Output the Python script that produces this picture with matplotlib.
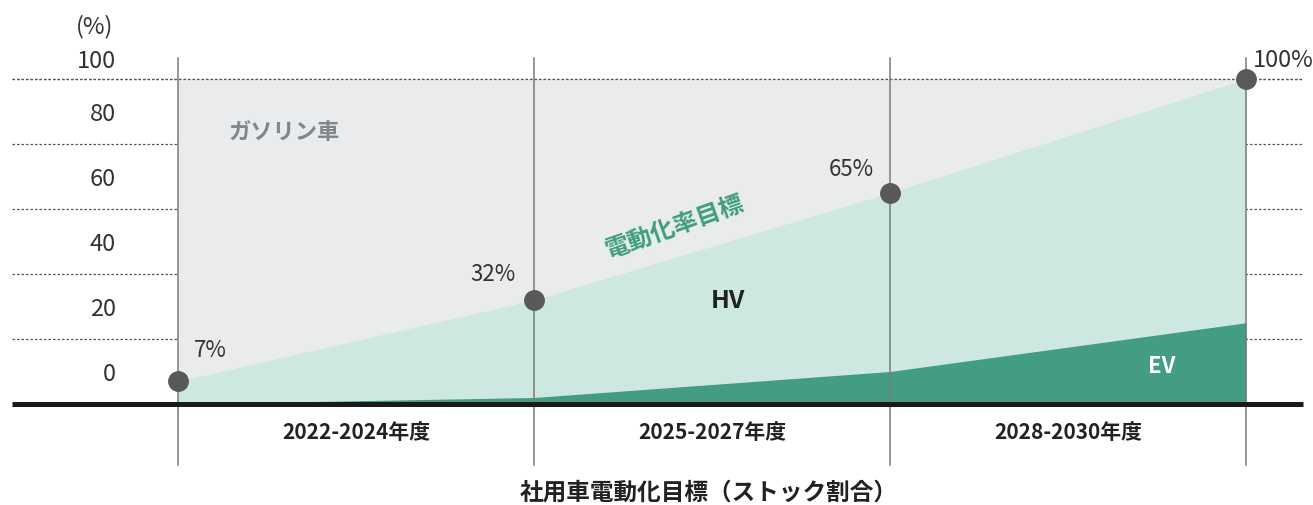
import numpy as np
import matplotlib
matplotlib.use('Agg')
import matplotlib.pyplot as plt

plt.rcParams['font.family'] = ['Noto Sans CJK JP', 'DejaVu Sans']

# data
periods = ['2022-2024年度', '2025-2027年度', '2028-2030年度']
milestones = [0, 1, 2, 3]
target_pct = [7, 32, 65, 100]      # 電動化率目標 (HV + EV)
ev_pct = [0, 2, 10, 25]           # EV share
y_ticks = [0, 20, 40, 60, 80, 100]

GRAY = '#eaebed'
LIGHT = '#cde8e0'
DARK = '#429d82'
POINT = '#58595b'

fig = plt.figure(figsize=(13.13, 5.05), dpi=100)
ax = fig.add_axes((0, 0, 1, 1))
ax.set_xlim(-0.5, 3.188)
ax.set_ylim(-31.08, 124.3)
ax.axis('off')

x = np.array(milestones)
x0, x1 = -0.466, 3.16

# dotted gridlines
for v in y_ticks[1:]:
    ax.plot([x0, x1], [v, v], color='#555555', lw=0.9,
            linestyle=(0, (2, 1.6)), zorder=1)

# stacked areas
ax.fill_between(x, 0, 100, color=GRAY, lw=0, zorder=2)
ax.fill_between(x, 0, target_pct, color=LIGHT, lw=0, zorder=3)
ax.fill_between(x, 0, ev_pct, color=DARK, lw=0, zorder=4)

# top gridline stays visible over the fill
ax.plot([x0, x1], [100, 100], color='#555555', lw=0.9,
        linestyle=(0, (2, 1.6)), zorder=5)

# vertical period separators
for m in milestones:
    ax.plot([m, m], [-18.8, 106.5], color='#7a7a7a', lw=1.1, zorder=6)

# baseline
ax.plot([x0, x1], [0, 0], color='#1a1a1a', lw=3.6, zorder=7,
        solid_capstyle='butt')

# milestone points
ax.plot(x, target_pct, 'o', color=POINT, ms=14, zorder=8)

txt = dict(zorder=10)

# y labels
for v in y_ticks:
    yy = v + 9 if v < 100 else v + 5.5
    ax.text(-0.174, yy, str(v), ha='right', va='center', fontsize=17,
            color='#333333', **txt)
ax.text(-0.233, 116, '(%)', ha='center', va='center', fontsize=17,
        color='#333333', **txt)

# point labels
ax.text(0.09, 16.6, f'{target_pct[0]}%', ha='center', va='center',
        fontsize=16, color='#333333', **txt)
ax.text(0.947, 39.7, f'{target_pct[1]}%', ha='right', va='center',
        fontsize=16, color='#333333', **txt)
ax.text(1.955, 72, f'{target_pct[2]}%', ha='right', va='center',
        fontsize=16, color='#333333', **txt)
ax.text(3.02, 105.8, f'{target_pct[3]}%', ha='left', va='center',
        fontsize=17, color='#333333', **txt)

# region labels
ax.text(0.143, 83.4, 'ガソリン車', ha='left', va='center', fontsize=16,
        fontweight='bold', color='#80878c', **txt)
ax.text(1.396, 54.2, '電動化率目標', ha='center', va='center', fontsize=17.5,
        fontweight='bold', color='#3f9e7f', rotation=19.6,
        rotation_mode='anchor', **txt)
ax.text(1.545, 31.7, 'HV', ha='center', va='center', fontsize=18,
        fontweight='bold', color='#222222', **txt)
ax.text(2.764, 11.4, 'EV', ha='center', va='center', fontsize=16,
        fontweight='bold', color='white', **txt)

# period labels
for i, p in enumerate(periods):
    ax.text(i + 0.5, -8.9, p, ha='center', va='center', fontsize=15,
            fontweight='bold', color='#222222', **txt)

ax.text(1.49, -27.1, '社用車電動化目標（ストック割合）', ha='center',
        va='center', fontsize=17, fontweight='bold', color='#222222', **txt)

fig.savefig('out.png', dpi=100)
